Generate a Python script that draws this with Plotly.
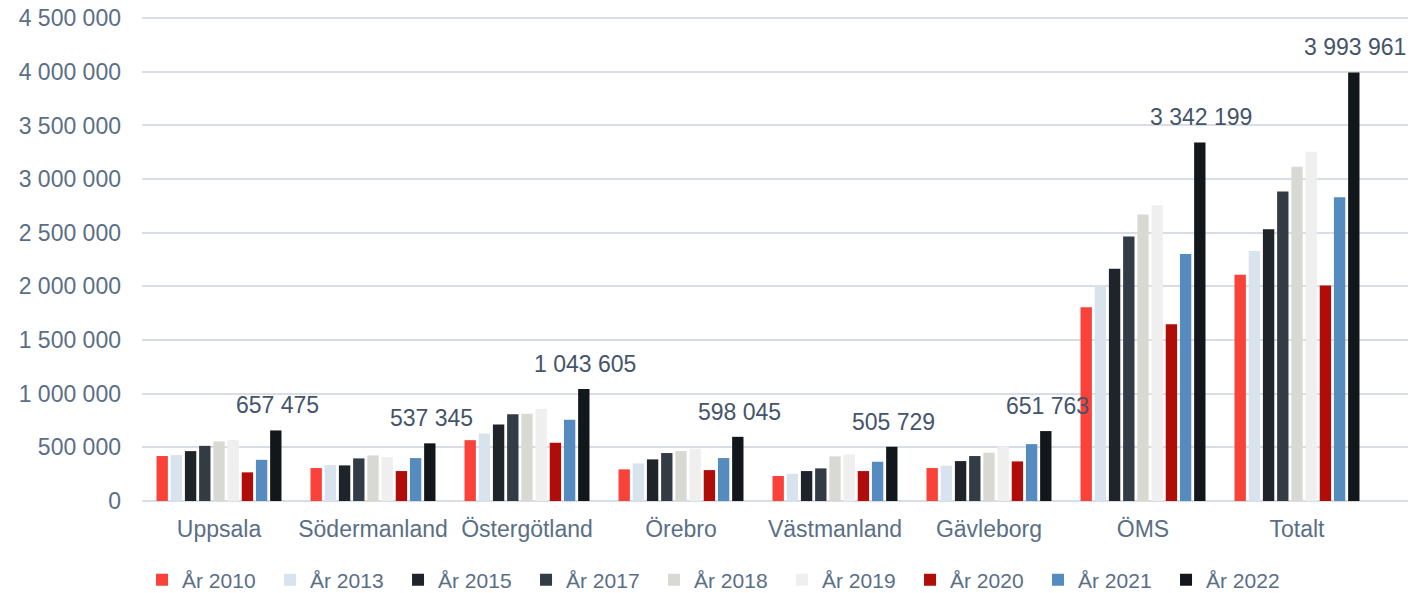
import plotly.graph_objects as go

regioner = ["Uppsala", "Södermanland", "Östergötland", "Örebro",
            "Västmanland", "Gävleborg", "ÖMS", "Totalt"]

ar_2010 = [419000, 307000, 567000, 295000, 233000, 307000, 1805000, 2109000]
ar_2013 = [428000, 335000, 630000, 350000, 254000, 329000, 2003000, 2329000]
ar_2015 = [465000, 332000, 713000, 388000, 279000, 372000, 2164000, 2533000]
ar_2017 = [514000, 397000, 809000, 447000, 304000, 419000, 2465000, 2884000]
ar_2018 = [555000, 425000, 812000, 465000, 416000, 450000, 2670000, 3116000]
ar_2019 = [567000, 409000, 859000, 487000, 434000, 509000, 2756000, 3256000]
ar_2020 = [267000, 279000, 543000, 288000, 279000, 369000, 1647000, 2009000]
ar_2021 = [384000, 400000, 757000, 400000, 366000, 530000, 2301000, 2831000]
ar_2022 = [657475, 537345, 1043605, 598045, 505729, 651763, 3342199, 3993961]

serier = [
    ("År 2010", ar_2010, "#F9423A"),
    ("År 2013", ar_2013, "#D9E3EE"),
    ("År 2015", ar_2015, "#1F242B"),
    ("År 2017", ar_2017, "#333C45"),
    ("År 2018", ar_2018, "#D9D9D4"),
    ("År 2019", ar_2019, "#EFEFEF"),
    ("År 2020", ar_2020, "#B00C0A"),
    ("År 2021", ar_2021, "#558BBF"),
    ("År 2022", ar_2022, "#12171B"),
]

TEXT = "#5A6E86"
FONT = "Liberation Sans, Arial, sans-serif"

fig = go.Figure()
for namn, varden, farg in serier:
    fig.add_trace(go.Bar(
        x=regioner, y=varden, name=namn,
        marker=dict(color=farg, line=dict(width=0)),
    ))

# Etiketter över staplarna för 2022
for reg, v in zip(regioner, ar_2022):
    fig.add_annotation(
        x=reg, y=v, xref="x", yref="y",
        text=f"{v:,}".replace(",", " "),
        showarrow=False, xshift=58, yshift=10, yanchor="bottom",
        font=dict(size=23, color="#44546A", family=FONT),
    )

# sidans body-marginal (8 px) räknas bort i storleken
fig.update_layout(
    width=1416, height=585,
    barmode="group", bargap=0.17, bargroupgap=0.2,
    plot_bgcolor="white", paper_bgcolor="white",
    separators=", ",
    font=dict(family=FONT, color=TEXT, size=23),
    margin=dict(l=134, r=16, t=8, b=92, autoexpand=False),
    legend=dict(
        orientation="h", x=0.455, xanchor="center", y=-0.163, yanchor="middle",
        font=dict(size=21, color=TEXT), traceorder="normal",
        itemwidth=30, entrywidth=83, entrywidthmode="pixels",
    ),
    xaxis=dict(showgrid=False, showline=False, ticks="", ticklabelstandoff=12,
               tickfont=dict(size=23, color=TEXT)),
    yaxis=dict(range=[0, 4520000], tick0=0, dtick=500000, tickformat=",d",
               showgrid=True, gridcolor="#D9DEE6", gridwidth=2,
               zeroline=True, zerolinecolor="#D9DEE6", zerolinewidth=2,
               showline=False, ticks="", ticklabelstandoff=20,
               ticklabeloverflow="allow",
               tickfont=dict(size=23, color=TEXT)),
)

fig.write_html("out.html")
